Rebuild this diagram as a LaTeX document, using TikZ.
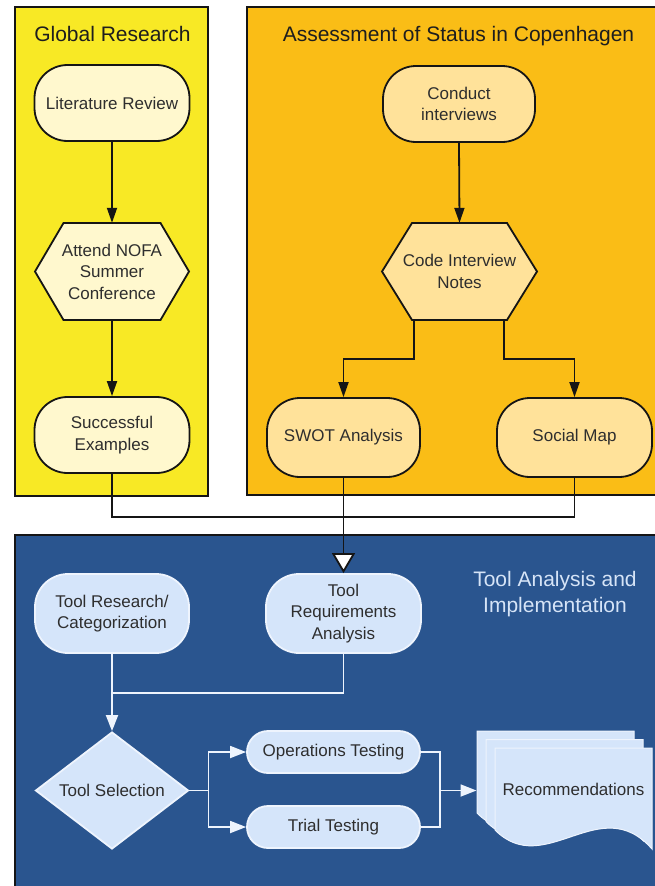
\documentclass[tikz,border=0pt]{standalone}
\usepackage{fontspec}
\setmainfont{Liberation Sans}
\usetikzlibrary{arrows.meta,shapes.geometric,calc}

\definecolor{globalfill}{HTML}{F8E925}
\definecolor{statusfill}{HTML}{FABD16}
\definecolor{toolpanel}{HTML}{2A558F}
\definecolor{globalnode}{HTML}{FFF8CE}
\definecolor{statusnode}{HTML}{FFE29A}
\definecolor{toolfill}{HTML}{D5E5FA}
\definecolor{toolline}{HTML}{EEF4FD}
\definecolor{lineink}{HTML}{151515}
\definecolor{boxink}{HTML}{2E2E2E}
\definecolor{titleink}{HTML}{1E1E1E}
\definecolor{tooltitle}{HTML}{D6E4F7}

\tikzset{
  panel/.style={draw=lineink, line width=1.6pt},
  paneltitle/.style={font=\fontsize{21}{26}\selectfont, text=titleink, align=center, inner sep=0pt},
  boxtext/.style={font=\fontsize{17}{21.5}\selectfont, text=boxink, align=center, inner sep=0pt},
  stepbox/.style={boxtext, rectangle, rounded corners=33pt, draw=lineink, line width=1.8pt,
    minimum width=155pt, minimum height=76pt},
  hexshape/.style={draw=lineink, line width=1.8pt, line join=miter},
  hexanchor/.style={boxtext, rectangle, minimum width=97pt, minimum height=97pt},
  flow/.style={draw=lineink, line width=1.8pt, -{Triangle[length=15pt,width=10pt]}},
  link/.style={draw=lineink, line width=1.8pt},
  toolbox/.style={stepbox, fill=toolfill, draw=toolline, minimum height=79pt},
  testbox/.style={boxtext, rectangle, rounded corners=21pt, fill=toolfill, draw=toolline,
    line width=1.8pt, minimum width=173pt, minimum height=42pt},
  wlink/.style={draw=toolline, line width=1.8pt},
  wflow/.style={wlink, -{Triangle[length=16pt,width=12pt]}},
  docsheet/.pic={
    \filldraw[fill=toolfill, draw=toolline, line width=1pt]
      (0,0) -- (157,0) -- (157,101) .. controls (105,42) and (50,132) .. (0,82) -- cycle;
  }
}

\begin{document}
\begin{tikzpicture}[x=1pt, y=-1pt]
\useasboundingbox (0,0) rectangle (655,886);
\clip (0,0) rectangle (655,886);

% ---- panels ----
\filldraw[panel, fill=globalfill] (15,7) rectangle (208,496);
\filldraw[panel, fill=statusfill] (247,7) rectangle (670,495);
\filldraw[panel, fill=toolpanel] (15,535) rectangle (670,900);

\node[paneltitle] (globaltitle) at (112.5,34) {Global Research};
\node[paneltitle] (statustitle) at (458.5,36) {Assessment of Status in Copenhagen};
\node[paneltitle, text=tooltitle] (tooltitle) at (555,594)
  {Tool Analysis and\\Implementation};

% ---- global research ----
\node[stepbox, fill=globalnode] (lit) at (112,103) {Literature Review};
\filldraw[hexshape, fill=globalnode]
  (35,271.5) -- (63.5,223) -- (160.5,223) -- (189,271.5) -- (160.5,320) -- (63.5,320) -- cycle;
\node[hexanchor] (nofa) at (112,271.5) {Attend NOFA\\Summer\\Conference};
\node[stepbox, fill=globalnode] (succ) at (112,435) {Successful\\Examples};

% ---- assessment of status ----
\node[stepbox, fill=statusnode, minimum width=152pt] (conduct) at (459,104) {Conduct\\interviews};
\filldraw[hexshape, fill=statusnode]
  (382,271.5) -- (412,223) -- (507,223) -- (537,271.5) -- (507,320) -- (412,320) -- cycle;
\node[hexanchor, minimum width=95pt] (code) at (459.5,271.5) {Code Interview\\Notes};
\node[stepbox, fill=statusnode, minimum width=153pt, minimum height=79pt] (swot) at (343.5,437.5) {SWOT Analysis};
\node[stepbox, fill=statusnode, minimum width=155pt, minimum height=79pt] (social) at (574.5,437.5) {Social Map};

% ---- tool analysis and implementation ----
\node[toolbox, minimum width=154pt] (toolres) at (112,613.5) {Tool Research/\\Categorization};
\node[toolbox] (toolreq) at (343.5,613.5) {Tool\\Requirements\\Analysis};
\node[boxtext, diamond, aspect=1.31, minimum width=153pt, minimum height=117pt,
  fill=toolfill, draw=toolline, line width=1.8pt] (sel) at (112,790.5) {Tool Selection};
\node[testbox] (ops) at (333.5,752) {Operations Testing};
\node[testbox] (trial) at (333.5,827) {Trial Testing};

% stacked documents
\path (477,731) pic {docsheet};
\path (486,739.5) pic {docsheet};
\path (495,748) pic {docsheet};
\node[boxtext] (rec) at (573.5,789) {Recommendations};
\coordinate (recin) at (476.5,790.5);

% ---- connectors ----
\draw[flow] (lit.south) -- (nofa.north);
\draw[flow] (nofa.south) -- (succ.north);
\draw[flow] (conduct.south) -- (code.north);
\draw[flow] ($(code.south)+(-45.5,0)$) -- ++(0,39) -| (swot.north);
\draw[flow] ($(code.south)+(44.5,0)$) -- ++(0,39) -| (social.north);

\draw[link] (succ.south) -- ++(0,43) -| (social.south);
\draw[link, -{Triangle[length=20pt,width=23pt,fill=white]}] (swot.south) -- (toolreq.north);

\draw[wlink] (toolres.south) -- ++(0,39) coordinate (join);
\draw[wlink] (toolreq.south) |- (join);
\draw[wflow] (join) -- (sel.north);

\draw[wlink] (sel.east) -- ++(19,0) coordinate (fork);
\draw[wflow] (fork) |- (ops.west);
\draw[wflow] (fork) |- (trial.west);

\draw[wlink] (ops.east) -- ++(19,0) coordinate (merge) -- (merge |- trial.east) -- (trial.east);
\draw[wflow] (merge |- fork) -- (recin);
\end{tikzpicture}
\end{document}
